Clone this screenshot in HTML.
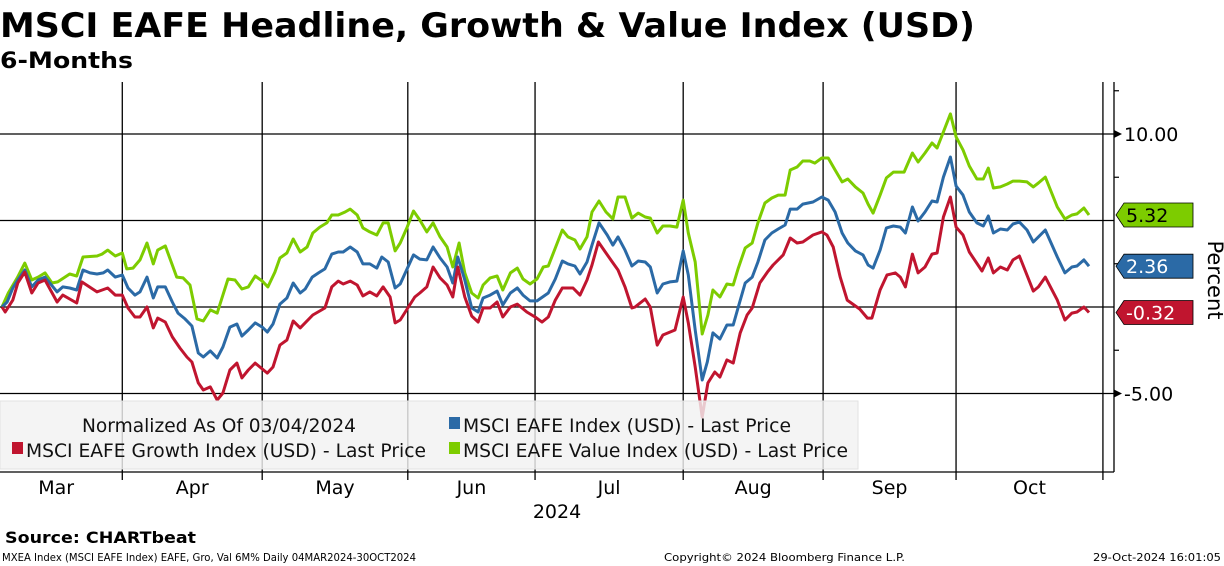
<!DOCTYPE html>
<html><head><meta charset="utf-8"><style>
html,body{margin:0;padding:0;background:#fff;}
svg{display:block;font-family:"DejaVu Sans","Liberation Sans",sans-serif;}
</style></head><body>
<svg id="chart" width="1224" height="566" viewBox="0 0 1224 566">
<text x="0" y="37" font-size="34" font-weight="bold" textLength="975" lengthAdjust="spacingAndGlyphs">MSCI EAFE Headline, Growth &amp; Value Index (USD)</text>
<text x="0" y="68" font-size="22" font-weight="bold" textLength="133" lengthAdjust="spacingAndGlyphs">6-Months</text>
<g id="grid"></g>
<g id="series"></g>
<rect x="0" y="401" width="858" height="68" fill="#f1f1f1" fill-opacity="0.82" stroke="#e2e2e2"/>
<g id="axes"></g>
<g font-size="19" fill="#111">
<text x="82" y="432" textLength="274" lengthAdjust="spacingAndGlyphs">Normalized As Of 03/04/2024</text>
<rect x="449" y="417" width="11" height="12" fill="#2b6aa6"/>
<text x="463" y="432" textLength="328" lengthAdjust="spacingAndGlyphs">MSCI EAFE Index (USD) - Last Price</text>
<rect x="12" y="442" width="11" height="12" fill="#c0152f"/>
<text x="26" y="457" textLength="400" lengthAdjust="spacingAndGlyphs">MSCI EAFE Growth Index (USD) - Last Price</text>
<rect x="449" y="442" width="11" height="12" fill="#7dcc00"/>
<text x="463" y="457" textLength="385" lengthAdjust="spacingAndGlyphs">MSCI EAFE Value Index (USD) - Last Price</text>
</g>
<text x="1208" y="280" font-size="21" text-anchor="middle" transform="rotate(90 1208 280)">Percent</text>
<text x="557" y="518" font-size="19" text-anchor="middle">2024</text>
<text x="5" y="543" font-size="16" font-weight="bold" textLength="191" lengthAdjust="spacingAndGlyphs">Source: CHARTbeat</text>
<text x="2" y="561" font-size="11" textLength="414" lengthAdjust="spacingAndGlyphs">MXEA Index (MSCI EAFE Index) EAFE, Gro, Val 6M%  Daily 04MAR2024-30OCT2024</text>
<text x="664" y="561" font-size="11" textLength="241" lengthAdjust="spacingAndGlyphs">Copyright© 2024 Bloomberg Finance L.P.</text>
<text x="1221" y="561" font-size="11" text-anchor="end" textLength="128" lengthAdjust="spacingAndGlyphs">29-Oct-2024 16:01:05</text>
</svg>
<script>
const months = ["Mar","Apr","May","Jun","Jul","Aug","Sep","Oct"];
const monthStarts = [0,19.0,41.1,64.1,84.2,107.6,129.7,150.7,173.9];
const yTicks = [10, -5];
const yMinorTicks = [12.5, 7.5, 2.5, -2.5];
const yGrid = [10, 5, 0, -5];
const growthDays = [0,0.5,1.7,2.5,3.6,4.7,5.7,6.8,8.7,9.6,11.8,12.6,15.0,16.7,17.9,19.0,19.9,21.0,21.8,22.9,23.9,24.6,25.8,26.9,28.1,29.2,30.0,31.0,31.8,32.9,34.0,34.9,36.0,37.1,37.9,38.9,40.0,41.9,42.8,43.9,45.0,46.0,47.1,49.1,51.0,52.1,53.1,53.9,55.0,56.1,57.0,58.1,59.2,60.2,61.3,62.1,62.9,64.1,65.2,66.0,67.1,68.1,69.2,70.3,71.2,72.0,73.1,74.2,75.2,76.0,77.1,78.2,79.1,80.3,81.4,82.9,84.2,85.3,86.3,87.4,88.5,90.2,91.3,92.4,93.2,94.2,95.3,96.4,97.3,98.4,99.5,100.0,101.6,102.4,103.5,104.4,106.3,107.6,108.4,109.5,110.6,111.5,112.6,113.4,114.5,115.5,116.6,117.7,118.5,119.7,120.9,121.8,123.4,124.5,125.6,126.5,128.1,129.5,130.3,131.3,132.4,133.5,135.5,136.7,137.4,138.7,139.8,141.1,141.9,142.7,143.8,144.7,145.8,146.9,147.7,148.7,149.8,150.7,151.8,152.8,154.8,155.8,156.6,157.7,158.8,159.7,160.7,162.9,163.7,164.8,166.7,167.9,169.0,169.8,170.9,171.7];
const growthVals = [0,-0.29,0.40,1.39,2.02,0.81,1.39,1.56,0.29,0.69,0.23,1.45,0.87,1.10,0.69,0.69,-0.06,-0.58,-0.58,0,-1.21,-0.64,-0.87,-1.73,-2.37,-2.89,-3.18,-4.39,-4.80,-4.62,-5.38,-4.97,-3.64,-3.24,-4.10,-3.64,-3.24,-3.82,-3.47,-2.20,-1.91,-0.81,-1.21,-0.46,-0.06,1.16,1.50,1.33,1.50,1.27,0.64,0.87,0.64,1.16,0.58,-0.92,-0.75,-0.06,0.58,0.81,1.16,2.31,1.68,1.27,0.58,2.31,0.58,-0.52,-0.87,-0.06,-0.06,0.29,-0.58,0,0.17,-0.29,-0.58,-0.87,-0.58,0.40,1.10,1.10,0.69,1.56,2.43,3.76,3.18,2.60,2.14,1.16,-0.06,0,0.46,0,-2.20,-1.62,-1.33,0.58,-0.92,-3.47,-6.36,-4.39,-3.76,-4.05,-3.06,-3.24,-1.50,-0.46,-0.06,1.39,2.02,2.43,3.01,3.99,3.70,3.76,4.16,4.34,4.16,3.47,1.73,0.40,-0.12,-0.64,-0.64,0.98,1.85,1.97,1.73,1.16,3.06,1.97,2.31,3.06,3.12,5.20,6.36,4.62,4.16,3.18,2.08,2.83,1.97,2.31,2.14,2.72,2.95,0.92,1.16,1.73,0.40,-0.75,-0.35,-0.29,0,-0.32];
const indexDays = [0,0.8,1.7,2.5,3.6,4.7,5.7,6.8,8.7,9.6,10.7,11.8,12.8,13.9,15.0,16.0,16.7,17.9,19.0,19.9,21.0,21.8,22.9,23.9,24.6,25.8,26.9,27.8,28.9,30.0,31.0,31.8,32.9,34.0,34.9,36.0,37.1,37.9,38.9,40.0,41.1,41.9,42.8,43.9,45.0,46.0,47.1,47.9,49.0,50.0,51.0,52.1,53.1,53.9,55.0,56.1,57.0,58.1,59.2,60.0,61.0,62.1,62.9,65.0,66.0,67.1,68.1,69.2,70.3,71.2,72.0,73.1,74.2,75.2,76.0,77.1,78.2,79.1,80.3,81.4,82.3,83.4,84.5,86.3,87.4,88.5,89.4,90.5,91.3,92.4,93.2,94.3,95.6,96.5,97.3,98.4,99.5,100.5,101.6,102.4,103.5,104.4,105.5,106.6,107.6,108.4,109.5,110.6,111.4,112.3,113.4,114.5,115.5,116.3,117.4,118.5,119.4,120.5,121.6,122.6,123.7,124.5,125.6,126.5,128.1,129.5,130.5,131.6,132.7,133.6,134.8,136.0,136.8,137.6,138.7,139.7,140.8,141.9,142.7,143.8,144.7,145.8,146.9,147.7,148.7,149.8,150.7,151.8,152.8,154.0,155.0,155.8,156.6,157.7,158.8,159.7,160.7,161.9,162.9,163.7,164.8,166.7,167.9,169.0,169.8,170.9,171.7];
const indexVals = [0,0.29,1.10,1.56,2.14,1.16,1.56,1.73,0.87,1.16,1.10,0.98,2.14,1.97,1.91,1.97,2.14,1.73,1.85,1.10,0.69,0.87,1.73,0.52,1.16,1.16,0.29,-0.35,-0.69,-1.10,-2.66,-2.89,-2.54,-2.95,-2.31,-1.16,-0.98,-1.68,-1.33,-0.92,-1.16,-1.45,-0.98,0.17,0.52,1.39,0.81,1.04,1.73,1.97,2.20,3.06,3.18,3.18,3.47,3.18,2.49,2.49,2.25,2.89,2.60,1.10,1.33,3.01,2.77,2.72,3.47,2.83,2.31,1.39,2.89,1.56,-0.06,-0.29,0.52,0.69,0.92,0.12,0.81,1.10,0.69,0.35,0.35,0.81,1.62,2.66,2.49,2.37,1.91,2.60,3.58,4.86,4.16,3.58,4.05,3.29,2.37,2.66,2.60,2.31,0.81,1.33,1.45,1.50,3.24,1.85,-1.33,-4.22,-3.18,-1.50,-1.85,-1.04,-1.04,0,1.39,1.73,2.60,3.87,4.28,4.51,4.74,5.66,5.66,5.95,6.07,6.36,6.18,5.49,4.28,3.70,3.24,3.01,2.43,2.25,3.29,4.57,4.68,4.62,4.28,5.78,4.97,5.49,6.13,6.07,7.51,8.67,6.99,6.47,5.49,4.86,4.68,5.26,4.28,4.51,4.45,4.80,4.91,4.45,3.76,4.05,4.45,2.89,1.97,2.31,2.37,2.72,2.36];
const valueDays = [0,1.0,2.4,3.6,4.7,5.7,6.8,7.9,8.8,10.7,11.8,12.8,15.0,15.8,16.7,17.9,19.0,19.7,20.7,21.8,22.9,23.9,24.6,25.8,26.9,27.6,28.6,29.7,30.8,31.8,32.9,34.0,34.9,35.7,36.8,37.9,38.9,40.0,41.1,42.0,43.1,43.9,45.0,46.0,47.1,48.2,49.1,50.2,51.3,52.1,53.1,54.2,55.0,56.1,57.0,58.1,59.2,60.2,61.0,62.1,62.9,64.0,65.0,66.0,67.1,68.1,69.2,70.3,71.2,72.2,73.1,74.2,75.2,76.0,77.1,78.2,79.1,80.3,81.4,82.3,83.4,84.5,85.5,86.3,87.4,88.5,89.4,90.5,91.3,92.4,93.2,94.3,95.4,96.5,97.3,98.4,99.5,100.5,101.6,102.4,103.5,104.4,105.5,106.6,107.6,108.4,109.5,110.6,111.5,112.3,113.4,114.5,115.5,116.3,117.4,118.5,119.4,120.5,121.6,122.6,123.7,124.5,125.6,126.5,127.6,128.4,129.5,130.5,131.6,132.7,133.6,134.8,136.0,136.8,137.6,138.7,139.7,140.8,142.5,143.8,144.7,145.8,146.9,147.7,148.7,149.8,150.7,151.8,152.8,154.0,155.0,155.8,156.6,157.7,158.8,159.7,160.7,161.9,162.9,163.7,164.8,166.7,167.9,169.0,169.8,170.9,171.7];
const valueVals = [0,0.81,1.68,2.54,1.56,1.73,1.97,1.39,1.45,1.91,1.79,2.89,2.95,3.06,3.29,2.95,3.12,2.20,2.25,2.72,3.70,2.49,3.29,3.53,2.43,1.73,1.68,1.27,-0.69,-0.81,-0.17,-0.35,0.69,1.62,1.56,1.04,1.16,1.79,1.50,1.16,2.02,2.83,3.12,3.93,3.18,3.47,4.28,4.62,4.86,5.32,5.32,5.49,5.66,5.32,4.57,4.34,4.16,4.86,4.86,3.24,3.70,4.62,5.55,5.03,4.34,4.86,4.05,3.47,2.31,3.70,1.97,0.81,0.52,1.27,1.68,1.79,0.98,1.97,2.25,1.62,1.33,1.62,2.31,2.37,3.41,4.45,4.05,3.87,3.35,4.05,5.49,6.13,5.49,5.09,6.36,6.36,5.14,5.43,5.20,5.14,4.28,4.68,4.68,4.62,6.18,4.28,2.60,-1.56,-0.46,0.98,0.58,1.33,1.27,2.25,3.41,3.70,4.86,6.01,6.30,6.47,6.47,7.92,8.09,8.44,8.44,8.32,8.61,8.61,7.92,7.23,7.40,6.94,6.59,5.95,5.43,6.47,7.46,7.80,7.80,8.90,8.38,8.90,9.48,9.19,10.12,11.16,9.83,9.08,8.15,7.40,7.40,8.03,6.88,6.94,7.11,7.28,7.28,7.23,6.94,7.17,7.51,5.78,5.09,5.32,5.38,5.72,5.32];

const NS='http://www.w3.org/2000/svg';
const X0=2, X1=1089, D0=0, D1=171.7;
const xS = d => X0 + (d-D0)/(D1-D0)*(X1-X0);
const yS = v => 307 - v*17.3;
const PLOT_TOP=82, PLOT_BOTTOM=472, AXIS_X=1114;
function mk(tag, attrs, parent){const e=document.createElementNS(NS,tag);for(const k in attrs)e.setAttribute(k,attrs[k]);parent.appendChild(e);return e;}
const grid=document.getElementById('grid'), ser=document.getElementById('series'), axes=document.getElementById('axes');

yGrid.forEach(v=>{
  const l=mk('line',{x1:0,x2:AXIS_X,y1:yS(v),y2:yS(v),stroke:'#000','stroke-width':1.3},grid);
  
  
});
monthStarts.slice(1).forEach(d=>{
  const l=mk('line',{x1:xS(d),x2:xS(d),y1:PLOT_TOP,y2:PLOT_BOTTOM+8,stroke:'#000','stroke-width':1.3},grid);
  
  
});
months.forEach((m,i)=>{
  const c=(xS(monthStarts[i])+xS(monthStarts[i+1]))/2 + (i===0?-6:0);
  const t=mk('text',{x:c,y:494,'font-size':19,'text-anchor':'middle'},axes);
  t.textContent=m;
  
  
});
const xa=mk('line',{x1:0,x2:AXIS_X,y1:PLOT_BOTTOM,y2:PLOT_BOTTOM,stroke:'#000','stroke-width':1.3},axes);


const ya=mk('line',{x1:AXIS_X,x2:AXIS_X,y1:PLOT_TOP,y2:PLOT_BOTTOM,stroke:'#000','stroke-width':1.3},axes);


yMinorTicks.forEach(v=>{
  const t=mk('line',{x1:AXIS_X,x2:AXIS_X+5,y1:yS(v),y2:yS(v),stroke:'#000','stroke-width':1.2},axes);
  
  
});
yTicks.forEach(v=>{
  const a=mk('polygon',{points:`${AXIS_X},${yS(v)-4} ${AXIS_X+8},${yS(v)} ${AXIS_X},${yS(v)+4}`,fill:'#000'},axes);
  
  
  const t=mk('text',{x:1124,y:yS(v)+7,'font-size':19},axes);
  t.textContent=v.toFixed(2);
  
  
});
const seriesDefs=[
  {name:'value',days:valueDays,vals:valueVals,color:'#7dcc00',text:'#000'},
  {name:'index',days:indexDays,vals:indexVals,color:'#2b6aa6',text:'#fff'},
  {name:'growth',days:growthDays,vals:growthVals,color:'#c0152f',text:'#fff'}
];
seriesDefs.forEach(s=>{
  const pts=s.days.map((d,i)=>xS(d).toFixed(1)+','+yS(s.vals[i]).toFixed(1)).join(' ');
  const p=mk('polyline',{points:pts,fill:'none',stroke:s.color,'stroke-width':3,'stroke-linejoin':'round'},ser);
  
  
  const last=s.vals[s.vals.length-1], y=yS(last);
  const tag=mk('polygon',{points:`${AXIS_X+2},${y} ${AXIS_X+10},${y-12} ${1193},${y-12} ${1193},${y+12} ${AXIS_X+10},${y+12}`,fill:s.color,stroke:'#000','stroke-width':0.8},axes);
  
  
  const t=mk('text',{x:1126,y:y+7,'font-size':19,fill:s.text},axes);
  t.textContent=last.toFixed(2);
  
  
});
</script>
</body></html>
